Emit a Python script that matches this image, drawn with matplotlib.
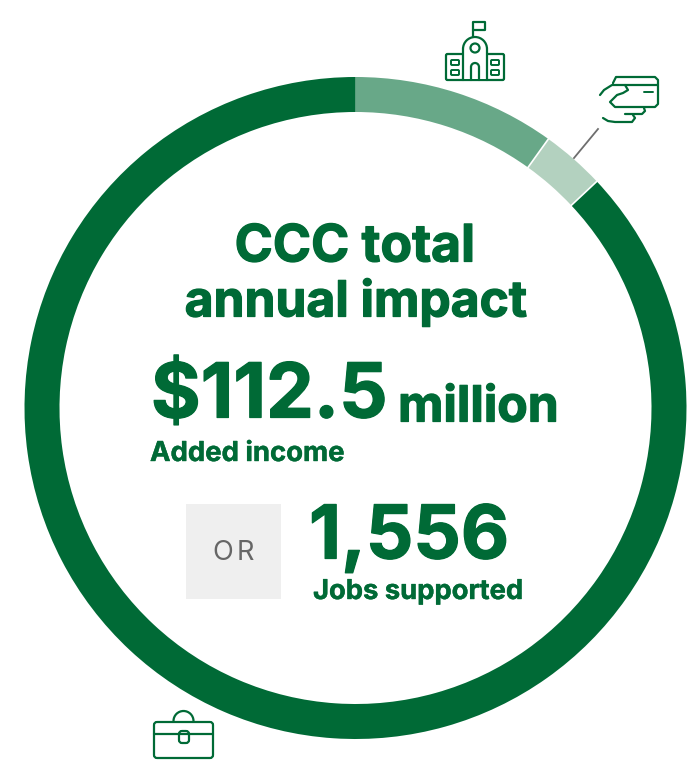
import math
import matplotlib
matplotlib.use('Agg')
import matplotlib.pyplot as plt
import matplotlib.patheffects as pe
from matplotlib.patches import Rectangle, Arc, Circle, FancyBboxPatch

plt.rcParams['font.family'] = ['Inter', 'DejaVu Sans']

W, H = 698, 767
GREEN = '#006a36'
LW = 1.6

# ring shares, read clockwise from the top
segments = ['Operations', 'Student spending', 'Alumni']
shares = [9.9, 3.1, 87.0]
colors = ['#68a888', '#b3d1bf', GREEN]

title_lines = ['CCC total', 'annual impact']
income_value = '$112.5'
income_unit = 'million'
income_label = 'Added income'
or_label = 'OR'
jobs_value = '1,556'
jobs_label = 'Jobs supported'

fig = plt.figure(figsize=(W / 100, H / 100), dpi=100)

# ring axes, 25..686 across and 77..739 down
cx, cy, R = 355.5, 408, 331
ax = fig.add_axes([(cx - R) / W, 1 - (cy + R) / H, 2 * R / W, 2 * R / H])
ax.pie(shares, colors=colors, startangle=90, counterclock=False, radius=1,
       wedgeprops=dict(width=35 / R, linewidth=0))
ax.set_xlim(-1, 1)
ax.set_ylim(-1, 1)
ax.axis('off')

# white gaps between the light segments
for s in [shares[0], shares[0] + shares[1]]:
    t = math.radians(s * 3.6)
    ax.plot([(1 - 36 / R) * math.sin(t), 1.002 * math.sin(t)],
            [(1 - 36 / R) * math.cos(t), 1.002 * math.cos(t)], color='white', lw=1.2, solid_capstyle='butt')

# overlay in pixel coordinates for text and icons
ov = fig.add_axes([0, 0, 1, 1])
ov.set_xlim(0, W)
ov.set_ylim(H, 0)
ov.axis('off')
ov.patch.set_alpha(0)

# thin outline thickens Inter Bold towards the heavier original face
def bold(x, y, s, size, ha='left', stroke=0.9):
    ov.text(x, y, s, fontsize=size, fontweight='bold', color=GREEN, ha=ha, va='center',
            path_effects=[pe.withStroke(linewidth=stroke, foreground=GREEN)])

bold(355, 248, title_lines[0], 37.2, ha='center')
bold(356, 302, title_lines[1], 35.8, ha='center')
bold(151, 398, income_value, 54.6)
bold(398, 408, income_unit, 35.8)
bold(150, 454, income_label, 19.8, stroke=0.3)

ov.add_patch(Rectangle((186, 504), 95, 95, color='#efefef', lw=0))
ov.text(212.5, 553, or_label[0], fontsize=19.5, color='#666666', ha='left', va='center')
ov.text(237, 553, or_label[1], fontsize=19.5, color='#666666', ha='left', va='center')
bold(309, 539, jobs_value, 53.5)
bold(313, 592, jobs_label, 19.7, stroke=0.3)

# leader line to the card icon
ov.plot([574, 598], [158, 129], color='#6e6e6e', lw=1.3)

def line(xs, ys, lw=LW):
    ov.plot(xs, ys, color=GREEN, lw=lw, solid_capstyle='round', solid_joinstyle='round', zorder=4)

def rbox(x, y, w, h, r=1.5, lw=LW, fc='none'):
    ov.add_patch(FancyBboxPatch((x + r, y + r), w - 2 * r, h - 2 * r, boxstyle='round,pad=%s' % r,
                                fc=fc, ec=GREEN, lw=lw, zorder=3))

# school icon
line([473, 473, 485, 485, 473], [37, 22, 22, 30, 30])
rbox(446, 54, 58, 26)
ov.add_patch(Rectangle((463, 38), 24, 41, fc='white', ec='none', zorder=3))
ov.add_patch(Arc((475, 49), 24, 24, theta1=180, theta2=360, ec=GREEN, lw=LW, zorder=4))
line([463, 463], [49, 80])
line([487, 487], [49, 80])
ov.add_patch(Circle((475, 48), 4.5, fc='none', ec=GREEN, lw=LW, zorder=4))
line([471, 471], [80, 67])
line([479, 479], [80, 67])
ov.add_patch(Arc((475, 67), 8, 8, theta1=180, theta2=360, ec=GREEN, lw=LW, zorder=4))
for bx in (451, 491):
    rbox(bx, 60, 8, 5, r=1, lw=1.4)
    rbox(bx, 70, 8, 5, r=1, lw=1.4)

# card and hand icon
line([613, 616, 655, 658, 658, 655, 615, 610, 617, 623, 628, 625, 612, 604, 600],
     [83, 77, 77, 80, 104, 107, 107, 102, 95, 93, 90, 85, 85, 90, 95])
line([625, 657], [85, 85])
line([644, 653], [92, 92], lw=1.4)
line([625, 642, 645, 644], [114, 114, 111, 108])
line([603, 608, 615, 632, 635, 633], [118, 121, 122, 122, 118, 115])

# briefcase icon
rbox(154, 722, 59, 36, r=3)
line([154, 213], [734, 734])
ov.add_patch(Arc((183.5, 721), 20, 20, theta1=180, theta2=360, ec=GREEN, lw=LW, zorder=4))
rbox(179, 731, 10, 12, r=3, fc='white')

fig.savefig('out.png', dpi=100)
